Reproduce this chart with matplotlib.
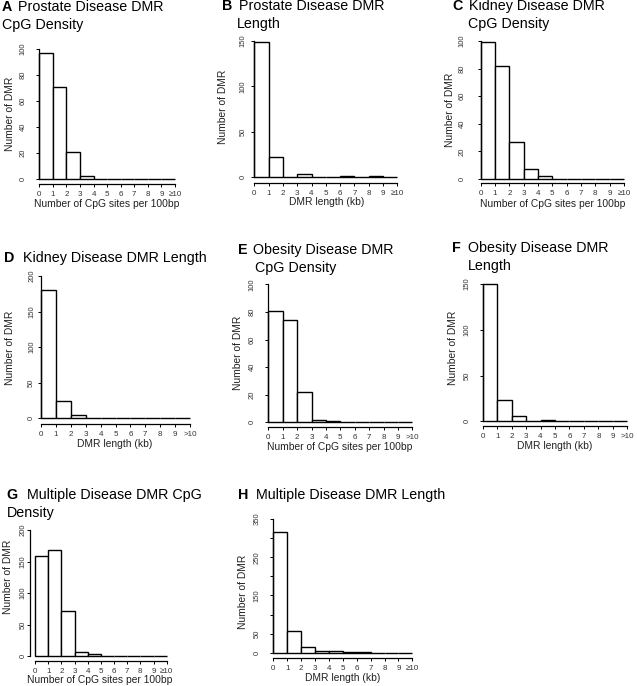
import matplotlib
matplotlib.use("Agg")
import matplotlib.pyplot as plt
import numpy as np

plt.rcParams['font.family'] = ['Liberation Sans', 'DejaVu Sans']

# Histogram counts per 1-unit bin (0-1, 1-2, ..., 9-10)
bins = np.arange(0, 11)
prostate_cpg = [97, 71, 21, 2, 0, 0, 0, 0, 0, 0]
prostate_len = [149, 22, 0, 4, 0, 0, 1, 0, 1, 0]
kidney_cpg = [99, 82, 27, 7, 2, 0, 0, 0, 0, 0]
kidney_len = [181, 25, 4, 0, 1, 0, 0, 0, 0, 1]
obesity_cpg = [81, 74, 22, 2, 1, 0, 0, 0, 0, 0]
obesity_len = [150, 23, 6, 0, 1, 0, 0, 0, 0, 0]
multi_cpg = [159, 168, 71, 7, 3, 0, 0, 0, 0, 0]
multi_len = [315, 57, 14, 5, 4, 2, 2, 0, 0, 0]

xlab_ge = ['0', '1', '2', '3', '4', '5', '6', '7', '8', '9', '\u226510']
xlab_gt = ['0', '1', '2', '3', '4', '5', '6', '7', '8', '9', '>10']
cpg_label = "Number of CpG sites per 100bp"
len_label = "DMR length (kb)"

W, H = 637, 686
f = plt.figure(figsize=(W/100., H/100.), dpi=100)

def fx(x):
    return x/float(W)

def fy(y):
    return 1 - y/float(H)

def panel(counts, ymax, ystep, yshow, xlabs, xlabel,
          x0, x10, y0, ytop, xaxis_y, yaxis_x, ypad,
          letter, lx, tx, l1y, line1, line2, l2x, l2y,
          xl_pos, yl_pos):
    ax = f.add_axes([fx(x0), fy(y0), fx(x10 - x0), (y0 - ytop)/float(H)])
    ax.bar(bins[:-1], counts, width=1, align='edge', color='white',
           edgecolor='black', linewidth=1.0, clip_on=False)
    ax.set_xlim(0, 10)
    ax.set_ylim(0, ymax)
    for s in ['top', 'right']:
        ax.spines[s].set_visible(False)
    ax.spines['left'].set_position(('outward', (x0 - yaxis_x)*0.72))
    ax.spines['bottom'].set_position(('outward', (xaxis_y - y0)*0.72))
    ax.spines['left'].set_bounds(0, ymax)
    ax.spines['bottom'].set_bounds(0, 10)
    ax.spines['left'].set_linewidth(0.9)
    ax.spines['bottom'].set_linewidth(0.9)
    yt = np.arange(0, ymax + 1, ystep)
    ax.set_yticks(yt)
    ax.set_yticklabels([str(v) if v in yshow else '' for v in yt],
                       rotation=90, va='center', fontsize=5.5, color='#333333')
    ax.set_xticks(bins)
    ax.set_xticklabels(xlabs, fontsize=5.8, color='#333333')
    ax.tick_params(axis='y', length=2.4, width=0.7, pad=ypad*0.72)
    ax.tick_params(axis='x', length=2.4, width=0.7, pad=2.6)
    # titles
    f.text(fx(lx), fy(l1y), letter, fontsize=10.3, fontweight='bold', va='center')
    f.text(fx(tx), fy(l1y), line1, fontsize=10.3, va='center')
    if line2:
        f.text(fx(l2x), fy(l2y), line2, fontsize=10.3, va='center')
    f.text(fx(xl_pos[0]), fy(xl_pos[1]), xlabel, fontsize=7.4,
           ha='center', va='center', color='#222222')
    f.text(fx(yl_pos[0]), fy(yl_pos[1]), "Number of DMR", fontsize=7.4,
           rotation=90, ha='center', va='center', color='#222222')
    return ax

# A
panel(prostate_cpg, 100, 20, [0, 20, 40, 60, 80, 100], xlab_ge, cpg_label,
      39.3, 175, 179, 49, 184, 39.3, 9,
      "A", 1.7, 18, 7.3, "Prostate Disease DMR", "CpG Density", 1.7, 25,
      (107, 204), (10, 114))
# B
panel(prostate_len, 150, 50, [0, 50, 100, 150], xlab_ge, len_label,
      254.3, 397.3, 177.3, 41, 182.7, 254.3, 4.5,
      "B", 221.7, 239, 6, "Prostate Disease DMR", "Length", 237, 24,
      (326.7, 202.3), (223.3, 106.7))
# C
panel(kidney_cpg, 100, 20, [0, 20, 40, 60, 80, 100], xlab_ge, cpg_label,
      480.7, 624, 179, 41, 183.3, 480.7, 11.5,
      "C", 452, 469, 6, "Kidney Disease DMR", "CpG Density", 468, 24,
      (553, 204), (450, 110))
# D
panel(kidney_len, 200, 50, [0, 50, 100, 150, 200], xlab_gt, len_label,
      41, 190, 418.3, 276, 424, 41, 2.5,
      "D", 4, 23, 258.3, "Kidney Disease DMR Length", None, 0, 0,
      (115, 444), (10, 348.3))
# E
panel(obesity_cpg, 100, 20, [0, 20, 40, 60, 80, 100], xlab_gt, cpg_label,
      268.3, 412.3, 422.3, 284.3, 427.3, 268.3, 9,
      "E", 238.3, 253.3, 250, "Obesity Disease DMR", "CpG Density", 255, 267.7,
      (340, 447), (238.3, 353.3))
# F
panel(obesity_len, 150, 50, [0, 50, 100, 150], xlab_gt, len_label,
      482.7, 627.3, 421.3, 284, 426.3, 482.7, 8.5,
      "F", 451.7, 468.3, 248.3, "Obesity Disease DMR", "Length", 468.3, 265.7,
      (555, 446), (453.3, 348.3))
# G
panel(multi_cpg, 200, 50, [0, 50, 100, 150, 200], xlab_ge, cpg_label,
      35, 166.7, 656, 530, 661, 30.3, 0.5,
      "G", 6.7, 26.7, 495, "Multiple Disease DMR CpG", "Density", 6.7, 513.3,
      (100, 680), (8.3, 576.7))
# H
panel(multi_len, 350, 50, [0, 50, 150, 250, 350], xlab_ge, len_label,
      273.3, 412.3, 652.7, 519, 658.3, 273.3, 9,
      "H", 238.3, 256, 495, "Multiple Disease DMR Length", None, 0, 0,
      (343, 678.3), (243.3, 591.7))

f.savefig("out.png", dpi=100)
